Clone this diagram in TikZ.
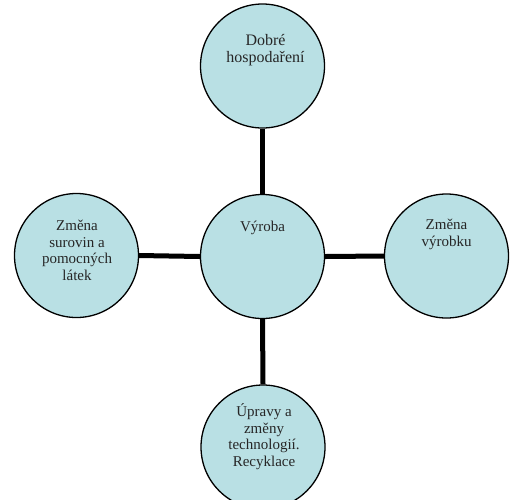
\documentclass[tikz,border=0pt]{standalone}
\usepackage{fontspec}
\setmainfont{Liberation Serif}
\definecolor{cfill}{RGB}{185,224,228}
\begin{document}
\begin{tikzpicture}[x=1pt,y=-1pt,
  bubble/.style={circle,draw=black,line width=1.3pt,fill=cfill,minimum size=124pt,inner sep=0pt},
  lbl/.style={align=center,font=\fontsize{15}{16.5}\selectfont,text=black!85,anchor=base,inner sep=0pt},
  link/.style={line width=5pt,black}]
\useasboundingbox (0,0) rectangle (510,499);
\clip (0,0) rectangle (510,499);
\node[bubble] (c) at (262.5,256.5) {};
\node[bubble] (t) at (262.5,66) {};
\node[bubble] (l) at (76.5,255.5) {};
\node[bubble] (r) at (446.5,256) {};
\node[bubble] (b) at (263,447) {};
\draw[link] (t.south) -- (c.north);
\draw[link] (c.south) -- (b.north);
\draw[link] (l.east) -- (c.west);
\draw[link] (c.east) -- (r.west);
\node[lbl,font=\fontsize{16}{17}\selectfont] (tc) at (265.5,62) {Dobré\\hospodaření};
\node[lbl] (cc) at (262.5,231) {Výroba};
\node[lbl] (lc) at (77,280) {Změna\\surovin a\\pomocných\\látek};
\node[lbl] (rc) at (446.5,246) {Změna\\výrobku};
\node[lbl] (bc) at (264,466) {Úpravy a\\změny\\technologií.\\Recyklace};
\end{tikzpicture}
\end{document}
